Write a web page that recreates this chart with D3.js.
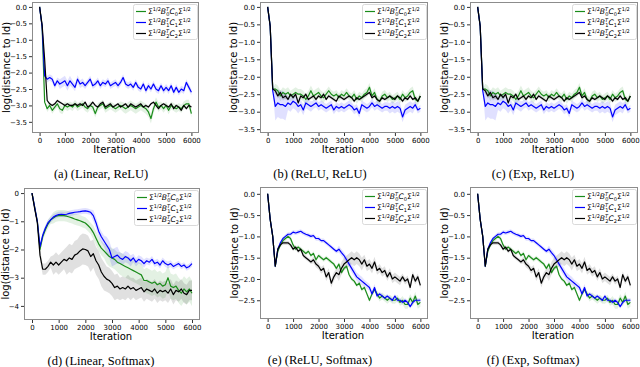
<!DOCTYPE html>
<html>
<head>
<meta charset="utf-8">
<script src="https://cdn.jsdelivr.net/npm/d3@7"></script>
<style>
  body { margin: 0; background: #fff; }
  svg text { font-family: "DejaVu Sans", sans-serif; fill: #000; }
</style>
</head>
<body>
<svg id="chart" width="640" height="367"></svg>
<script>
// iterations (x values), one per 100 steps
var iterations = [0,100,200,300,400,500,600,700,800,900,1000,1100,1200,1300,1400,1500,1600,1700,1800,1900,2000,
  2100,2200,2300,2400,2500,2600,2700,2800,2900,3000,3100,3200,3300,3400,3500,3600,3700,3800,3900,4000,
  4100,4200,4300,4400,4500,4600,4700,4800,4900,5000,5100,5200,5300,5400,5500,5600,5700,5800,5900,6000];
var xTicks = [0, 1000, 2000, 3000, 4000, 5000, 6000];

// (a) Linear, ReLU
var linReluB0 = [0,-0.6,-2.9,-3.1,-3.0,-3.15,-3.05,-2.95,-3.1,-3.15,-3.0,
  -3.05,-3.0,-3.05,-2.95,-3.05,-3.0,-2.95,-3.05,-3.1,-3.0,
  -3.05,-3.25,-3.05,-3.0,-2.95,-3.1,-3.05,-3.0,-3.05,-3.1,
  -3.05,-3.0,-3.05,-3.1,-3.05,-3.0,-3.05,-3.1,-3.05,-3.0,
  -3.05,-3.1,-3.2,-3.4,-3.1,-2.9,-3.05,-3.0,-3.1,-3.0,
  -3.15,-3.0,-3.05,-3.1,-3.05,-3.1,-3.0,-2.95,-2.95,-3.25];
var linReluB1 = [0,-0.6,-2.1,-2.2,-2.15,-2.2,-2.4,-2.25,-2.35,-2.3,-2.25,
  -2.4,-2.25,-2.35,-2.45,-2.2,-2.35,-2.3,-2.4,-2.3,-2.2,
  -2.4,-2.35,-2.25,-2.4,-2.3,-2.35,-2.25,-2.4,-2.35,-2.3,
  -2.4,-2.3,-2.15,-2.35,-2.4,-2.35,-2.45,-2.3,-2.45,-2.5,
  -2.35,-2.55,-2.4,-2.5,-2.35,-2.5,-2.55,-2.4,-2.55,-2.45,
  -2.55,-2.4,-2.6,-2.45,-2.6,-2.5,-2.55,-2.3,-2.45,-2.6];
var linReluB2 = [0,-0.55,-1.6,-2.85,-2.95,-3.0,-2.95,-2.85,-2.9,-2.95,-3.0,
  -2.95,-3.0,-3.0,-2.95,-3.0,-2.95,-3.0,-2.9,-3.05,-3.0,
  -2.9,-3.0,-3.05,-2.95,-2.9,-3.05,-3.0,-2.95,-3.05,-3.0,
  -2.95,-3.05,-3.0,-2.95,-3.05,-2.95,-3.0,-3.05,-3.0,-2.95,
  -3.05,-3.0,-3.05,-2.95,-2.9,-3.0,-3.1,-3.0,-2.95,-3.0,
  -3.05,-2.95,-3.1,-3.0,-3.05,-3.15,-3.0,-3.1,-3.0,-3.05];

// (b) ReLU, ReLU  and  (c) Exp, ReLU (same curves)
var reluReluB0 = [0,-0.55,-2.35,-2.35,-2.4,-2.55,-2.45,-2.5,-2.45,-2.55,-2.5,
  -2.45,-2.5,-2.5,-2.55,-2.65,-2.55,-2.4,-2.55,-2.5,-2.45,
  -2.55,-2.6,-2.5,-2.4,-2.5,-2.55,-2.5,-2.6,-2.5,-2.55,
  -2.45,-2.55,-2.6,-2.5,-2.65,-2.55,-2.6,-2.5,-2.45,-2.3,
  -2.55,-2.45,-2.65,-2.7,-2.55,-2.5,-2.6,-2.55,-2.65,-2.6,
  -2.55,-2.65,-2.5,-2.6,-2.55,-2.45,-2.4,-2.65,-2.7,-2.55];
var reluReluB1 = [0,-0.55,-2.4,-2.85,-2.75,-2.8,-2.8,-2.85,-2.75,-2.8,-2.7,
  -2.75,-2.85,-2.8,-2.95,-2.75,-2.8,-2.85,-2.8,-2.75,-2.85,
  -2.8,-2.85,-2.9,-2.85,-2.8,-2.95,-2.85,-2.9,-2.85,-2.9,
  -2.85,-2.8,-2.85,-2.95,-2.9,-3.05,-2.8,-2.85,-2.9,-2.85,
  -2.75,-2.85,-2.8,-2.85,-2.9,-2.85,-2.85,-2.9,-2.85,-2.9,
  -2.85,-2.9,-3.15,-2.95,-2.9,-2.85,-2.9,-2.8,-2.95,-2.9];
var reluReluB2 = [0,-0.55,-2.35,-2.4,-2.55,-2.45,-2.6,-2.55,-2.65,-2.5,-2.6,
  -2.5,-2.75,-2.55,-2.6,-2.5,-2.65,-2.6,-2.55,-2.65,-2.55,
  -2.6,-2.5,-2.65,-2.55,-2.6,-2.65,-2.7,-2.55,-2.6,-2.65,
  -2.6,-2.55,-2.6,-2.7,-2.6,-2.65,-2.6,-2.55,-2.5,-2.45,
  -2.6,-2.55,-2.65,-2.7,-2.6,-2.65,-2.6,-2.55,-2.6,-2.65,
  -2.55,-2.6,-2.7,-2.6,-2.65,-2.55,-2.65,-2.6,-2.7,-2.55];

// (d) Linear, Softmax
var linSoftB0 = [0,-0.5,-1.0,-2.0,-1.55,-1.3,-1.1,-0.95,-0.88,-0.82,-0.8,
  -0.8,-0.8,-0.82,-0.85,-0.88,-0.92,-0.95,-0.98,-1.02,-1.06,
  -1.15,-1.25,-1.4,-1.6,-1.8,-1.95,-2.05,-2.15,-2.25,-2.3,
  -2.35,-2.45,-2.5,-2.55,-2.6,-2.65,-2.7,-2.75,-2.8,-2.85,
  -2.9,-3.1,-3.1,-3.15,-3.2,-3.15,-3.25,-3.2,-3.3,-3.25,
  -3.0,-3.3,-3.35,-3.3,-3.45,-3.55,-3.4,-3.5,-3.4,-3.55];
var linSoftB1 = [0,-0.5,-1.0,-1.9,-1.5,-1.25,-1.05,-0.95,-0.85,-0.8,-0.76,
  -0.75,-0.76,-0.75,-0.72,-0.7,-0.68,-0.67,-0.66,-0.64,-0.63,
  -0.65,-0.68,-0.8,-1.05,-1.35,-1.55,-1.7,-1.85,-2.0,-2.3,
  -2.25,-2.2,-2.3,-2.35,-2.25,-2.3,-2.4,-2.3,-2.45,-2.35,
  -2.4,-2.5,-2.4,-2.45,-2.35,-2.5,-2.45,-2.55,-2.4,-2.5,
  -2.55,-2.5,-2.6,-2.55,-2.5,-2.6,-2.55,-2.65,-2.6,-2.5];
var linSoftB2 = [0,-0.55,-1.05,-2.2,-2.7,-2.7,-2.6,-2.45,-2.55,-2.45,-2.55,
  -2.45,-2.35,-2.4,-2.3,-2.35,-2.2,-2.15,-2.05,-1.98,-2.0,
  -2.05,-2.25,-2.15,-2.4,-2.55,-2.8,-2.95,-3.05,-3.1,-3.2,
  -3.35,-3.3,-3.4,-3.35,-3.4,-3.3,-3.4,-3.35,-3.45,-3.4,
  -3.35,-3.5,-3.4,-3.45,-3.5,-3.4,-3.55,-3.45,-3.5,-3.45,
  -3.55,-3.4,-3.6,-3.45,-3.5,-3.4,-3.55,-3.6,-3.45,-3.45];

// (e) ReLU, Softmax  and  (f) Exp, Softmax (same curves)
var reluSoftB0 = [0,-0.6,-1.0,-1.7,-1.35,-1.2,-1.1,-1.05,-1.0,-1.05,-1.2,
  -1.3,-1.25,-1.3,-1.35,-1.4,-1.35,-1.45,-1.4,-1.55,-1.45,
  -1.5,-1.55,-1.5,-1.55,-1.6,-1.65,-1.75,-1.65,-1.85,-1.75,
  -1.7,-1.9,-2.0,-2.05,-2.15,-2.1,-2.25,-2.2,-2.35,-2.5,
  -2.35,-2.25,-2.35,-2.45,-2.4,-2.45,-2.5,-2.45,-2.5,-2.5,
  -2.45,-2.55,-2.5,-2.6,-2.6,-2.45,-2.55,-2.4,-2.6,-2.55];
var reluSoftB1 = [0,-0.6,-1.0,-1.7,-1.3,-1.15,-1.05,-1.0,-0.95,-0.95,-0.9,
  -0.92,-0.9,-0.88,-0.92,-0.95,-0.97,-1.0,-0.98,-1.05,-1.05,
  -1.1,-1.1,-1.15,-1.2,-1.25,-1.3,-1.35,-1.3,-1.38,-1.45,
  -1.55,-1.65,-1.75,-1.85,-1.95,-2.0,-2.05,-2.1,-2.15,-2.2,
  -2.35,-2.2,-2.4,-2.35,-2.4,-2.45,-2.4,-2.45,-2.5,-2.4,
  -2.5,-2.5,-2.55,-2.5,-2.55,-2.65,-2.55,-2.5,-2.5,-2.5];
var reluSoftB2 = [0,-0.6,-1.0,-1.7,-1.3,-1.2,-1.15,-1.15,-1.15,-1.2,-1.3,
  -1.25,-1.35,-1.3,-1.45,-1.5,-1.55,-1.6,-1.55,-1.65,-1.7,
  -1.8,-1.75,-1.95,-1.85,-2.1,-1.95,-1.85,-1.9,-1.75,-1.65,
  -1.6,-1.55,-1.5,-1.55,-1.5,-1.55,-1.65,-1.55,-1.7,-1.65,
  -1.75,-1.6,-1.8,-1.75,-1.85,-1.8,-1.95,-1.85,-2.0,-1.95,
  -2.0,-2.05,-1.95,-2.05,-2.0,-2.2,-1.9,-2.05,-1.95,-2.15];

// half-width of the shaded band, one value per 500 iterations
var linReluSpread = [[0,.1,.12,.12,.12,.12,.12,.15,.15,.15,.12,.12,.12],
                     [0,.1,.15,.12,.1,.1,.1,.1,.1,.1,.1,.1,.1],
                     [0,.04,.04,.04,.04,.04,.04,.04,.04,.04,.04,.04,.04]];
var reluReluSpread = [[0,.15,.15,.15,.15,.12,.12,.12,.12,.12,.12,.12,.12],
                      [0,.4,.2,.15,.12,.12,.12,.12,.12,.12,.15,.15,.1],
                      [0,.08,.05,.05,.05,.05,.05,.05,.05,.05,.05,.05,.05]];
var linSoftSpread = [[0,.15,.2,.2,.2,.25,.35,.4,.4,.45,.45,.45,.45],
                     [0,.1,.1,.1,.1,.2,.3,.2,.15,.12,.12,.1,.1],
                     [0,.2,.35,.5,.55,.5,.45,.4,.35,.35,.35,.35,.35]];
var reluSoftSpread = [[0,.05,.05,.05,.05,.05,.05,.05,.05,.08,.08,.1,.1],
                      [0,.05,.05,.05,.05,.05,.08,.1,.08,.05,.05,.05,.05],
                      [0,.05,.05,.05,.08,.1,.15,.15,.12,.1,.1,.08,.08]];

var ticksTenths = [0, -0.5, -1.0, -1.5, -2.0, -2.5, -3.0, -3.5];
var ticksUnits = [0, -1, -2, -3, -4];
var ticksSoft = [0, -0.5, -1.0, -1.5, -2.0, -2.5];

var colors = ["#1a8c1a", "#0000ff", "#000000"];
var legendIdx = ["0", "1", "2"];

var panels = [
  {caption: "(a) (Linear, ReLU)", left: 32, top: 2, w: 167, h: 131, yDom: [-3.84, 0.15], ticks: ticksTenths, fmt: ".1f",
   series: [linReluB0, linReluB1, linReluB2], spread: linReluSpread, capX: 101, labX: 6},
  {caption: "(b) (ReLU, ReLU)", left: 260, top: 2, w: 168, h: 131, yDom: [-3.61, 0.14], ticks: ticksTenths, fmt: ".1f",
   series: [reluReluB0, reluReluB1, reluReluB2], spread: reluReluSpread, capX: 320, labX: 233},
  {caption: "(c) (Exp, ReLU)", left: 470, top: 2, w: 168, h: 131, yDom: [-3.61, 0.14], ticks: ticksTenths, fmt: ".1f",
   series: [reluReluB0, reluReluB1, reluReluB2], spread: reluReluSpread, capX: 533, labX: 444},
  {caption: "(d) (Linear, Softmax)", left: 24, top: 188, w: 176, h: 132, yDom: [-4.5, 0.18], ticks: ticksUnits, fmt: "d",
   series: [linSoftB0, linSoftB1, linSoftB2], spread: linSoftSpread, capX: 101, labX: 5},
  {caption: "(e) (ReLU, Softmax)", left: 260, top: 187, w: 168, h: 132, yDom: [-2.94, 0.16], ticks: ticksSoft, fmt: ".1f",
   series: [reluSoftB0, reluSoftB1, reluSoftB2], spread: reluSoftSpread, capX: 320, labX: 234},
  {caption: "(f) (Exp, Softmax)", left: 470, top: 187, w: 168, h: 132, yDom: [-2.94, 0.16], ticks: ticksSoft, fmt: ".1f",
   series: [reluSoftB0, reluSoftB1, reluSoftB2], spread: reluSoftSpread, capX: 533, labX: 444}
];

var svg = d3.select("#chart");

// legend label: Σ^{1/2} B_k^T C_k Σ^{1/2}
function legendLabel(sel, k) {
  var parts = [
    {t: "\u03A3", lv: 0}, {t: "1/2", lv: 1},
    {t: "B", lv: 0, it: true}, {t: "T", lv: 1, it: true}, {t: k, lv: -1, back: 2.9},
    {t: "C", lv: 0, it: true}, {t: k, lv: -1},
    {t: "\u03A3", lv: 0}, {t: "1/2", lv: 1}
  ];
  var shift = {"0": 0, "1": -3.2, "-1": 1.7};
  var prev = 0;
  parts.forEach(function(p) {
    var ts = sel.append("tspan").text(p.t)
      .attr("dy", shift[p.lv] - shift[prev])
      .style("font-size", p.lv === 0 ? "7.6px" : "5px");
    if (p.it) ts.style("font-style", "italic");
    if (p.back) ts.attr("dx", -p.back);
    prev = p.lv;
  });
}

function drawPanel(p, pi) {
  var g = svg.append("g");
  var x = d3.scaleLinear().domain([-300, 6300]).range([p.left, p.left + p.w]);
  var y = d3.scaleLinear().domain(p.yDom).range([p.top + p.h, p.top]);

  svg.append("clipPath").attr("id", "clip" + pi)
    .append("rect").attr("x", p.left).attr("y", p.top).attr("width", p.w).attr("height", p.h);

  var plot = g.append("g").attr("clip-path", "url(#clip" + pi + ")");

  p.series.forEach(function(vals, si) {
    var sp = p.spread[si];
    var area = d3.area()
      .x(function(d, i) { return x(iterations[i]); })
      .y0(function(d, i) { return y(d - sp[Math.round(iterations[i] / 500)]); })
      .y1(function(d, i) { return y(d + sp[Math.round(iterations[i] / 500)]); });
    plot.append("path").datum(vals)
      .attr("d", area)
      .attr("fill", colors[si])
      .attr("fill-opacity", 0.12);
  });

  p.series.forEach(function(vals, si) {
    var line = d3.line()
      .x(function(d, i) { return x(iterations[i]); })
      .y(function(d) { return y(d); });
    plot.append("path").datum(vals)
      .attr("d", line)
      .attr("fill", "none")
      .attr("stroke", colors[si])
      .attr("stroke-width", 1.2)
      .attr("stroke-linejoin", "round");
  });

  // frame
  g.append("rect")
    .attr("x", p.left + 0.5).attr("y", p.top + 0.5)
    .attr("width", p.w - 1).attr("height", p.h - 1)
    .attr("fill", "none").attr("stroke", "#8c8c8c").attr("stroke-width", 1);

  var xAxis = g.append("g")
    .attr("transform", "translate(0," + (p.top + p.h) + ")")
    .call(d3.axisBottom(x).tickValues(xTicks).tickFormat(d3.format("d")).tickSize(3).tickPadding(2));
  var yAxis = g.append("g")
    .attr("transform", "translate(" + p.left + ",0)")
    .call(d3.axisLeft(y).tickValues(p.ticks).tickFormat(d3.format(p.fmt)).tickSize(3).tickPadding(2));
  [xAxis, yAxis].forEach(function(a) {
    a.select(".domain").remove();
    a.selectAll("line").attr("stroke", "#333");
    a.selectAll("text").style("font-size", "7px").style("font-family", "DejaVu Sans");
  });

  g.append("text")
    .attr("x", p.left + p.w / 2 - 1)
    .attr("y", p.top + p.h + 20)
    .attr("text-anchor", "middle")
    .style("font-size", "10px")
    .text("Iteration");

  g.append("text")
    .attr("transform", "translate(" + (p.labX + 3.5) + "," + (p.top + p.h / 2) + ") rotate(-90)")
    .attr("text-anchor", "middle")
    .style("font-size", "10px")
    .text("log(distance to Id)");

  g.append("text")
    .attr("x", p.capX)
    .attr("y", p.top + p.h + 45)
    .attr("text-anchor", "middle")
    .style("font-family", "'Liberation Serif', serif")
    .style("font-size", "12.5px")
    .text(p.caption);

  // legend, upper right
  var lw = 64, lh = 35;
  var lx = p.left + p.w - lw - 2, ly = p.top + 2;
  var leg = g.append("g");
  leg.append("rect")
    .attr("x", lx + 0.5).attr("y", ly + 0.5).attr("width", lw).attr("height", lh)
    .attr("rx", 2).attr("fill", "#fff").attr("fill-opacity", 0.85)
    .attr("stroke", "#d0d0d0").attr("stroke-width", 0.8);
  legendIdx.forEach(function(k, si) {
    var yy = ly + 7.5 + si * 11;
    leg.append("line")
      .attr("x1", lx + 3).attr("x2", lx + 13)
      .attr("y1", yy).attr("y2", yy)
      .attr("stroke", colors[si]).attr("stroke-width", 1.2);
    var t = leg.append("text").attr("x", lx + 15).attr("y", yy + 2.5);
    legendLabel(t, k);
  });
}

panels.forEach(drawPanel);
</script>
</body>
</html>
